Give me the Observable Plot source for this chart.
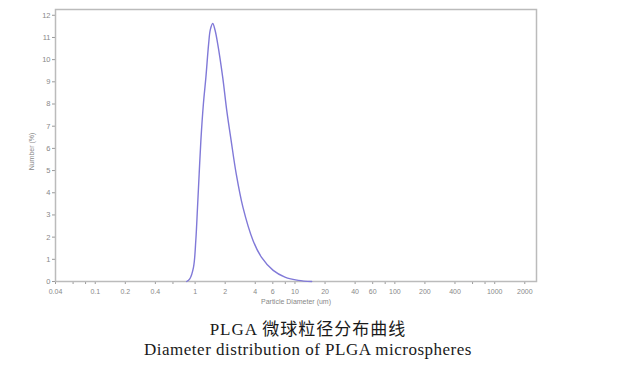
<!DOCTYPE html>
<html>
<head>
<meta charset="utf-8">
<script src="https://cdn.jsdelivr.net/npm/d3@7"></script>
<script src="https://cdn.jsdelivr.net/npm/@observablehq/plot@0.6"></script>
<style>
  html, body { margin: 0; padding: 0; background: #fff; }
  #wrap { position: relative; width: 629px; height: 379px; overflow: hidden; }
  #chart svg { display: block; }
  .cap { position: absolute; left: 0; width: 616px; text-align: center;
         font-family: "Liberation Serif", "DejaVu Serif", "Noto Sans CJK SC", serif;
         color: #1a1a1a; font-size: 17px; line-height: 15px; white-space: nowrap; }
</style>
</head>
<body>
<div id="wrap">
  <div id="chart"></div>
  <div class="cap" id="cap1" style="top:322px; letter-spacing:1px"></div>
  <div class="cap" id="cap2" style="top:342px; letter-spacing:0.5px"></div>
</div>
<script>
// Particle diameter (µm) and number (%)
const diameter = [0.824, 0.884, 0.963, 1.016, 1.057, 1.098, 1.142, 1.21, 1.282, 1.365, 1.42, 1.50, 1.58, 1.685, 1.89, 2.075, 2.295, 2.58, 3.01, 3.80, 4.61, 6.05, 7.93, 10.8, 14.7];
const number   = [0,     0.12,  0.64,  1.85,  3.35,  4.85,  6.35,  8.0,  9.2,   10.7,  11.35, 11.63, 11.35, 10.7, 9.2,  7.7,   6.35,  4.85, 3.35, 1.85, 1.1,  0.5,  0.2,  0.05, 0];

const xTicks = [0.04, 0.06, 0.08, 0.1, 0.2, 0.4, 0.6, 1, 2, 4, 6, 8, 10, 20, 40, 60, 80, 100, 200, 400, 600, 800, 1000, 2000];
const xTickLabels = [0.04, 0.1, 0.2, 0.4, 1, 2, 4, 6, 10, 20, 40, 60, 100, 200, 400, 1000, 2000];
const yTicks = [0, 1, 2, 3, 4, 5, 6, 7, 8, 9, 10, 11, 12];

const xLabel = "Particle Diameter (um)";
const yLabel = "Number (%)";
const title1 = "PLGA 微球粒径分布曲线";
const title2 = "Diameter distribution of PLGA microspheres";

const data = diameter.map((d, i) => ({d, v: number[i]}));

const chart = Plot.plot({
  width: 629,
  height: 310,
  marginLeft: 55,
  marginRight: 93,
  marginTop: 9,
  marginBottom: 29,
  style: { fontFamily: "Liberation Sans, Arial, sans-serif", color: "#888", background: "#fff" },
  x: { type: "log", domain: [0.04, 2620] },
  y: { domain: [0, 12.26] },
  marks: [
    Plot.axisX(xTicks, {
      tickSize: 3, stroke: "#999", tickFormat: () => "", label: null
    }),
    Plot.text(xTickLabels, {
      x: d => d, text: d => String(d), frameAnchor: "bottom", dy: 10,
      lineAnchor: "middle", fontSize: 7, fill: "#888"
    }),
    Plot.text([xLabel], {frameAnchor: "bottom", dy: 22, fontSize: 7, fill: "#888"}),
    Plot.axisY(yTicks, {
      tickSize: 3, tickPadding: 2, fontSize: 7.5, stroke: "#999",
      label: null
    }),
    Plot.text([yLabel], {frameAnchor: "left", textAnchor: "middle", dx: -24, dy: 6, rotate: -90, fontSize: 7, fill: "#888"}),
    Plot.frame({stroke: "#bbb", strokeWidth: 1.5}),
    Plot.line(data, {x: "d", y: "v", stroke: "#8079d8", strokeWidth: 1.4, curve: "catmull-rom"})
  ]
});
document.getElementById("chart").appendChild(chart);
document.getElementById("cap1").textContent = title1;
document.getElementById("cap2").textContent = title2;
</script>
</body>
</html>
